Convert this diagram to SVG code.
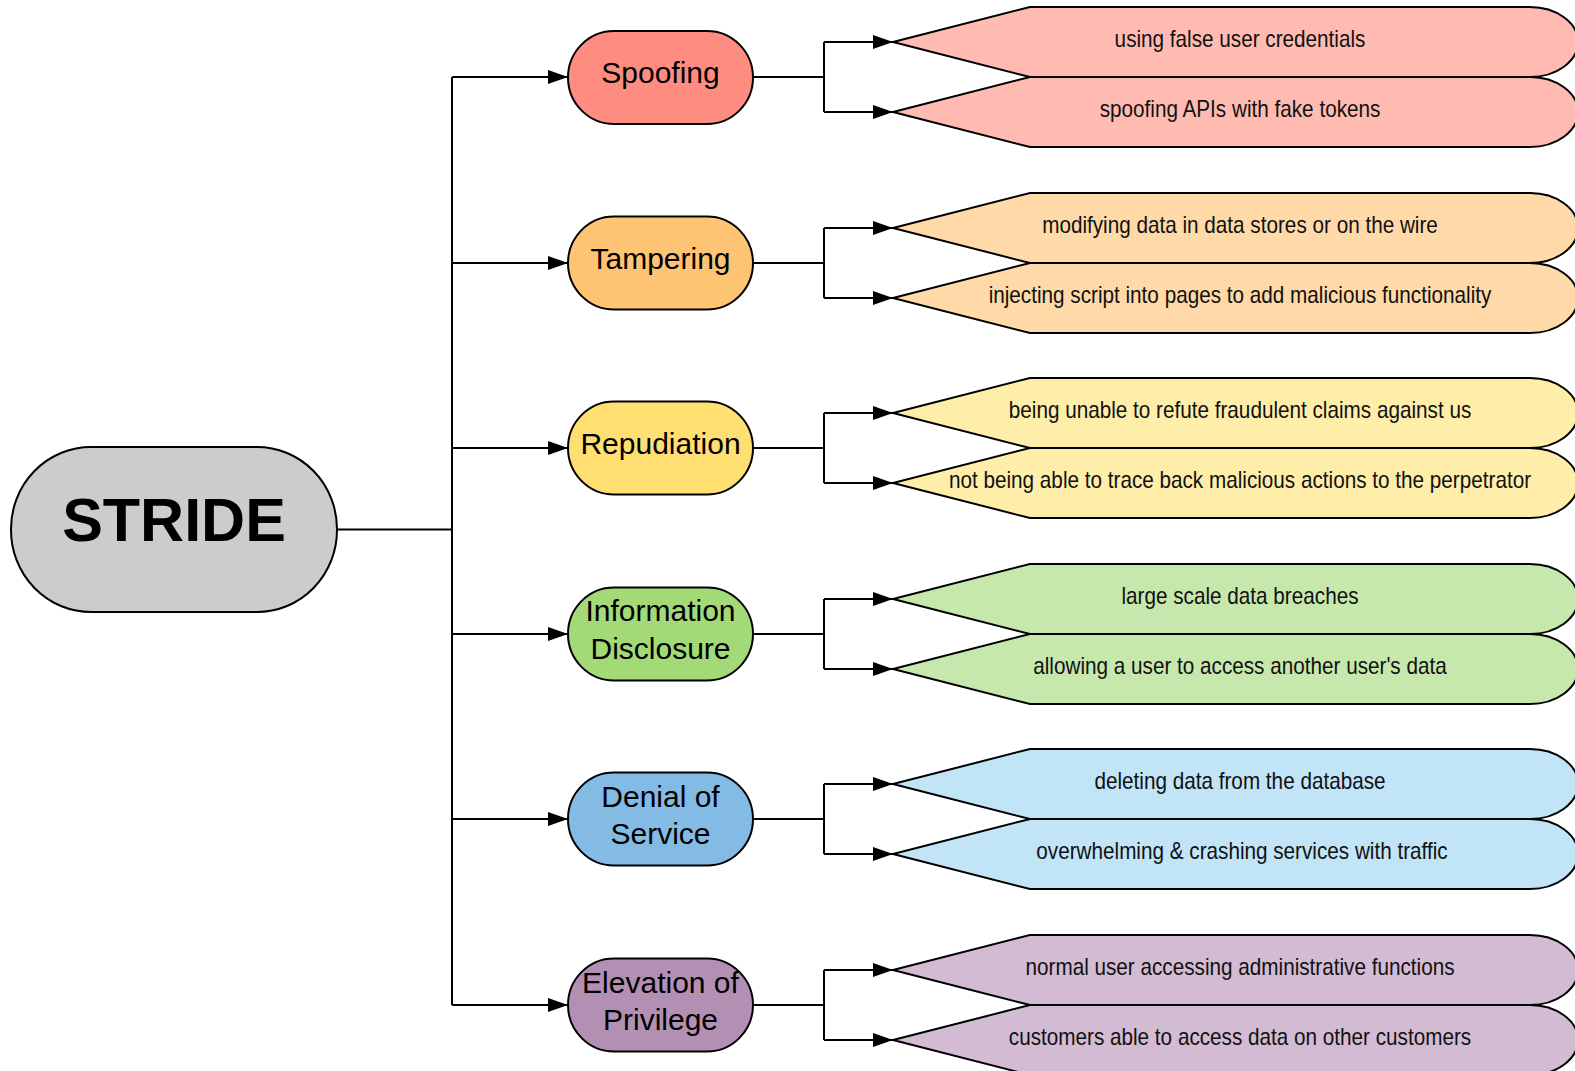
<svg xmlns="http://www.w3.org/2000/svg" width="1575" height="1071" viewBox="0 0 1575 1071">
  <defs>
    <marker id="arrow" markerUnits="userSpaceOnUse" markerWidth="20" markerHeight="14" refX="20" refY="7" orient="auto">
      <path d="M0,0 L20,7 L0,14 Z" fill="#000"/>
    </marker>
    <style>
      .edge { fill: none; stroke: #000; stroke-width: 2; }
      .arr { marker-end: url(#arrow); }
      .shape { stroke: #000; stroke-width: 2; }
      .root-label { font-family: "Liberation Sans", Arial, sans-serif; font-weight: bold; font-size: 61px; fill: #000; text-anchor: middle; }
      .cat-label { font-family: "Liberation Sans", Arial, sans-serif; font-size: 30px; fill: #000; text-anchor: middle; }
      .leaf-label { font-family: "Liberation Sans", Arial, sans-serif; font-size: 23px; fill: #111; text-anchor: middle; }
      .s-node { fill: #FF8C80; } .s-leaf { fill: #FFBBB1; }
      .t-node { fill: #FFC374; } .t-leaf { fill: #FFDAA8; }
      .r-node { fill: #FFDF71; } .r-leaf { fill: #FFEEAA; }
      .i-node { fill: #A3D977; } .i-leaf { fill: #C7E8AC; }
      .d-node { fill: #83BBE5; } .d-leaf { fill: #C1E4F7; }
      .e-node { fill: #B38FB4; } .e-leaf { fill: #D3BBD3; }
    </style>
  </defs>

  <rect width="1575" height="1071" fill="#fff"/>

  <!-- connectors -->
  <g id="connectors">
    <!-- root to categories -->
    <path class="edge" d="M337 529.5 H452"/>
    <path class="edge" d="M452 77 V1005"/>
    <path class="edge arr" d="M452 77 H568"/>
    <path class="edge arr" d="M452 263 H568"/>
    <path class="edge arr" d="M452 448 H568"/>
    <path class="edge arr" d="M452 634 H568"/>
    <path class="edge arr" d="M452 819 H568"/>
    <path class="edge arr" d="M452 1005 H568"/>
    <!-- categories to examples -->
    <path class="edge" d="M753 77 H824 M824 42 V112"/>
    <path class="edge arr" d="M824 42 H893"/>
    <path class="edge arr" d="M824 112 H893"/>
    <path class="edge" d="M753 263 H824 M824 228 V298"/>
    <path class="edge arr" d="M824 228 H893"/>
    <path class="edge arr" d="M824 298 H893"/>
    <path class="edge" d="M753 448 H824 M824 413 V483"/>
    <path class="edge arr" d="M824 413 H893"/>
    <path class="edge arr" d="M824 483 H893"/>
    <path class="edge" d="M753 634 H824 M824 599 V669"/>
    <path class="edge arr" d="M824 599 H893"/>
    <path class="edge arr" d="M824 669 H893"/>
    <path class="edge" d="M753 819 H824 M824 784 V854"/>
    <path class="edge arr" d="M824 784 H893"/>
    <path class="edge arr" d="M824 854 H893"/>
    <path class="edge" d="M753 1005 H824 M824 970 V1040"/>
    <path class="edge arr" d="M824 970 H893"/>
    <path class="edge arr" d="M824 1040 H893"/>
  </g>

  <!-- root -->
  <g id="stride">
    <rect class="shape" x="11" y="447" width="326" height="165" rx="80" ry="82" fill="#CCCCCC"/>
    <text class="root-label" x="174" y="541">STRIDE</text>
  </g>

  <!-- categories -->
  <g id="spoofing">
    <rect class="shape s-node" x="568" y="31" width="185" height="93" rx="46" ry="46.5"/>
    <text class="cat-label" x="660.5" y="83">Spoofing</text>
  </g>
  <g id="tampering">
    <rect class="shape t-node" x="568" y="216.5" width="185" height="93" rx="46" ry="46.5"/>
    <text class="cat-label" x="660.5" y="269">Tampering</text>
  </g>
  <g id="repudiation">
    <rect class="shape r-node" x="568" y="401.5" width="185" height="93" rx="46" ry="46.5"/>
    <text class="cat-label" x="660.5" y="454">Repudiation</text>
  </g>
  <g id="information-disclosure">
    <rect class="shape i-node" x="568" y="587.5" width="185" height="93" rx="46" ry="46.5"/>
    <text class="cat-label" x="660.5" y="621">Information</text>
    <text class="cat-label" x="660.5" y="658.5">Disclosure</text>
  </g>
  <g id="denial-of-service">
    <rect class="shape d-node" x="568" y="772.5" width="185" height="93" rx="46" ry="46.5"/>
    <text class="cat-label" x="660.5" y="806.5">Denial of</text>
    <text class="cat-label" x="660.5" y="844">Service</text>
  </g>
  <g id="elevation-of-privilege">
    <rect class="shape e-node" x="568" y="958.5" width="185" height="93" rx="46" ry="46.5"/>
    <text class="cat-label" x="660.5" y="992.5">Elevation of</text>
    <text class="cat-label" x="660.5" y="1030">Privilege</text>
  </g>

  <!-- examples: pointed left end, rounded right end -->
  <g id="spoofing-1">
    <path class="shape s-leaf" d="M893 42 L1030 7 H1530 A48 35 0 0 1 1530 77 H1030 Z"/>
    <text class="leaf-label" transform="translate(1240 46.5) scale(0.9 1)">using false user credentials</text>
  </g>
  <g id="spoofing-2">
    <path class="shape s-leaf" d="M893 112 L1030 77 H1530 A48 35 0 0 1 1530 147 H1030 Z"/>
    <text class="leaf-label" transform="translate(1240 116.5) scale(0.9 1)">spoofing APIs with fake tokens</text>
  </g>
  <g id="tampering-1">
    <path class="shape t-leaf" d="M893 228 L1030 193 H1530 A48 35 0 0 1 1530 263 H1030 Z"/>
    <text class="leaf-label" transform="translate(1240 232.5) scale(0.9 1)">modifying data in data stores or on the wire</text>
  </g>
  <g id="tampering-2">
    <path class="shape t-leaf" d="M893 298 L1030 263 H1530 A48 35 0 0 1 1530 333 H1030 Z"/>
    <text class="leaf-label" transform="translate(1240 302.5) scale(0.9 1)">injecting script into pages to add malicious functionality</text>
  </g>
  <g id="repudiation-1">
    <path class="shape r-leaf" d="M893 413 L1030 378 H1530 A48 35 0 0 1 1530 448 H1030 Z"/>
    <text class="leaf-label" transform="translate(1240 417.5) scale(0.9 1)">being unable to refute fraudulent claims against us</text>
  </g>
  <g id="repudiation-2">
    <path class="shape r-leaf" d="M893 483 L1030 448 H1530 A48 35 0 0 1 1530 518 H1030 Z"/>
    <text class="leaf-label" transform="translate(1240 487.5) scale(0.9 1)">not being able to trace back malicious actions to the perpetrator</text>
  </g>
  <g id="information-disclosure-1">
    <path class="shape i-leaf" d="M893 599 L1030 564 H1530 A48 35 0 0 1 1530 634 H1030 Z"/>
    <text class="leaf-label" transform="translate(1240 603.5) scale(0.9 1)">large scale data breaches</text>
  </g>
  <g id="information-disclosure-2">
    <path class="shape i-leaf" d="M893 669 L1030 634 H1530 A48 35 0 0 1 1530 704 H1030 Z"/>
    <text class="leaf-label" transform="translate(1240 673.5) scale(0.9 1)">allowing a user to access another user's data</text>
  </g>
  <g id="denial-of-service-1">
    <path class="shape d-leaf" d="M893 784 L1030 749 H1530 A48 35 0 0 1 1530 819 H1030 Z"/>
    <text class="leaf-label" transform="translate(1240 788.5) scale(0.9 1)">deleting data from the database</text>
  </g>
  <g id="denial-of-service-2">
    <path class="shape d-leaf" d="M893 854 L1030 819 H1530 A48 35 0 0 1 1530 889 H1030 Z"/>
    <text class="leaf-label" transform="translate(1242 858.5) scale(0.9 1)">overwhelming &amp; crashing services with traffic</text>
  </g>
  <g id="elevation-of-privilege-1">
    <path class="shape e-leaf" d="M893 970 L1030 935 H1530 A48 35 0 0 1 1530 1005 H1030 Z"/>
    <text class="leaf-label" transform="translate(1240 974.5) scale(0.9 1)">normal user accessing administrative functions</text>
  </g>
  <g id="elevation-of-privilege-2">
    <path class="shape e-leaf" d="M893 1040 L1030 1005 H1530 A48 35 0 0 1 1530 1075 H1030 Z"/>
    <text class="leaf-label" transform="translate(1240 1044.5) scale(0.9 1)">customers able to access data on other customers</text>
  </g>
</svg>
